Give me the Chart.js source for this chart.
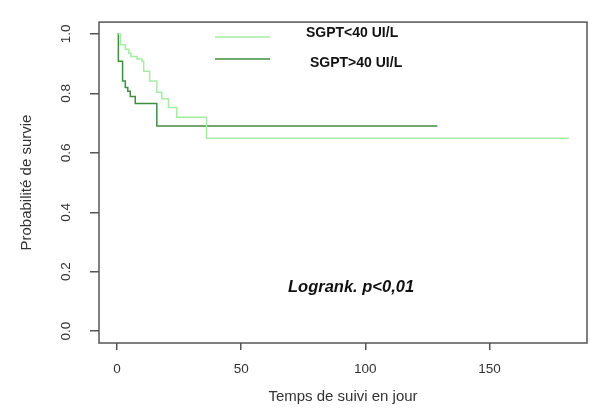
<!DOCTYPE html>
<html>
<head>
<meta charset="utf-8">
<script src="https://cdn.jsdelivr.net/npm/chart.js@4.4.1/dist/chart.umd.min.js"></script>
<style>
  body { margin: 0; background: #fff; }
  #wrap { width: 590px; height: 411px; }
</style>
</head>
<body>
<div id="wrap"><canvas id="kmChart" width="590" height="411"></canvas></div>
<script>
// Kaplan-Meier curves, values (days / survival)
var lowTimes = [0, 1.3, 3.3, 4.7, 5.6, 8, 10, 10.7, 13.1, 16, 18, 20.7, 24, 36, 182];
var lowSurv  = [1, 0.964, 0.949, 0.935, 0.924, 0.916, 0.908, 0.875, 0.842, 0.804, 0.782, 0.753, 0.72, 0.649, 0.649];

var highTimes = [0, 0.5, 2.2, 3.3, 4.3, 5.3, 7.3, 16, 129];
var highSurv  = [1, 0.908, 0.842, 0.82, 0.807, 0.79, 0.766, 0.69, 0.69];

var seriesNames = ["SGPT<40 UI/L", "SGPT>40 UI/L"];
var xTicks = [0, 50, 100, 150];
var yTicks = [0, 0.2, 0.4, 0.6, 0.8, 1.0];
var testLabel = "Logrank. p<0,01";

var lightGreen = "#a4eca4";
var darkGreen = "#3f8f3f";
var axisGrey = "#555";
var textGrey = "#333";

function toPoints(t, s) {
  var pts = [];
  for (var i = 0; i < t.length; i++) {
    pts.push({ x: t[i], y: s[i] });
  }
  return pts;
}

/* box, legend and test label drawn on top */
var extras = {
  id: 'extras',
  afterDatasetsDraw: function(chart) {
    var ctx = chart.ctx;
    var a = chart.chartArea;
    ctx.save();
    ctx.strokeStyle = axisGrey;
    ctx.lineWidth = 1.5;
    ctx.strokeRect(a.left, a.top, a.right - a.left, a.bottom - a.top);

    // legend
    var rows = [
      { color: lightGreen, lineY: 37, textX: 306, textY: 33 },
      { color: darkGreen, lineY: 59, textX: 310, textY: 63 }
    ];
    ctx.font = "bold 14px 'Liberation Sans', Arial, sans-serif";
    ctx.textBaseline = "middle";
    ctx.textAlign = "left";
    rows.forEach(function(r, i) {
      ctx.strokeStyle = r.color;
      ctx.lineWidth = 1.5;
      ctx.beginPath();
      ctx.moveTo(215, r.lineY);
      ctx.lineTo(270, r.lineY);
      ctx.stroke();
      ctx.fillStyle = "#111";
      ctx.fillText(seriesNames[i], r.textX, r.textY);
    });

    ctx.font = "italic bold 16.5px 'Liberation Sans', Arial, sans-serif";
    ctx.fillStyle = "#111";
    ctx.fillText(testLabel, 288, 287);
    ctx.restore();
  }
};

var canvas = document.getElementById("kmChart");
var chart = new Chart(canvas, {
  type: 'line',
  data: {
    datasets: [
      {
        label: seriesNames[0],
        data: toPoints(lowTimes, lowSurv),
        borderColor: lightGreen,
        borderWidth: 1.5,
        stepped: true,
        pointRadius: 0,
        fill: false
      },
      {
        label: seriesNames[1],
        data: toPoints(highTimes, highSurv),
        borderColor: darkGreen,
        borderWidth: 1.5,
        stepped: true,
        pointRadius: 0,
        fill: false
      }
    ]
  },
  options: {
    responsive: false,
    animation: false,
    devicePixelRatio: 1,
    layout: { padding: { top: 13, right: 3, left: 0, bottom: 0 } },
    plugins: {
      legend: { display: false },
      tooltip: { enabled: false }
    },
    scales: {
      x: {
        type: 'linear',
        min: -7.3,
        max: 189.3,
        afterBuildTicks: function(s) {
          s.ticks = xTicks.map(function(v) { return { value: v }; });
        },
        afterFit: function(s) { s.height = 68; },
        border: { display: false },
        grid: {
          drawOnChartArea: false,
          drawTicks: true,
          tickLength: 7,
          color: axisGrey,
          lineWidth: 1.5
        },
        ticks: {
          color: textGrey,
          padding: 11,
          maxRotation: 0,
          font: { family: "'Liberation Sans', Arial, sans-serif", size: 13.5 }
        },
        title: {
          display: true,
          text: "Temps de suivi en jour",
          color: textGrey,
          padding: { top: 0, bottom: 5 },
          font: { family: "'Liberation Sans', Arial, sans-serif", size: 15 }
        }
      },
      y: {
        type: 'linear',
        min: -0.04,
        max: 1.04,
        afterBuildTicks: function(s) {
          s.ticks = yTicks.map(function(v) { return { value: v }; });
        },
        afterFit: function(s) { s.width = 99; },
        border: { display: false },
        grid: {
          drawOnChartArea: false,
          drawTicks: true,
          tickLength: 9,
          color: axisGrey,
          lineWidth: 1.5
        },
        ticks: {
          color: textGrey,
          padding: 14,
          minRotation: 90,
          maxRotation: 90,
          crossAlign: 'center',
          font: { family: "'Liberation Sans', Arial, sans-serif", size: 13.5 },
          callback: function(v) { return Number(v).toFixed(1); }
        },
        title: {
          display: true,
          text: "Probabilité de survie",
          color: textGrey,
          padding: { top: 18, bottom: 0 },
          font: { family: "'Liberation Sans', Arial, sans-serif", size: 15 }
        }
      }
    }
  },
  plugins: [extras]
});
</script>
</body>
</html>
